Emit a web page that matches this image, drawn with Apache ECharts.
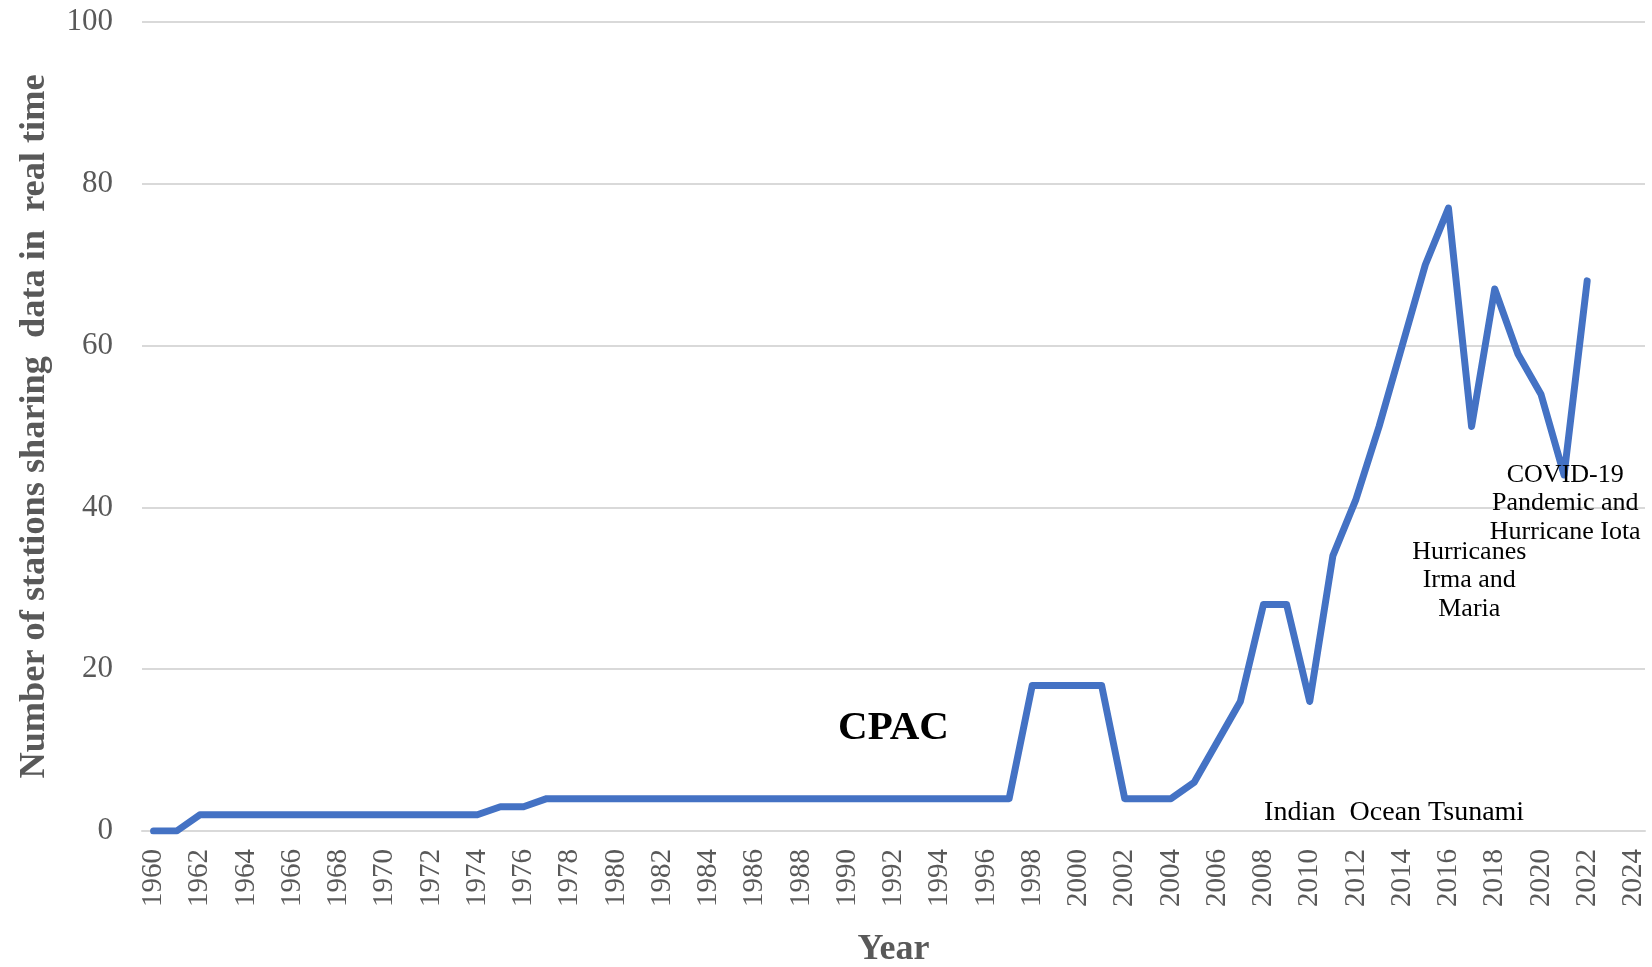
<!DOCTYPE html>
<html>
<head>
<meta charset="utf-8">
<script src="https://cdn.jsdelivr.net/npm/echarts@6/dist/echarts.min.js"></script>
<style>
html,body{margin:0;padding:0;background:#fff;}
#chart{width:1652px;height:967px;}
</style>
</head>
<body>
<div id="chart"></div>
<script>
// Categories (years shown on the axis)
var years = [];
for (var y = 1960; y <= 2024; y++) years.push(String(y));

// Number of stations sharing data in real time (1960 - 2022)
var stations = [
  0, 0, 2, 2, 2, 2, 2, 2, 2, 2,      // 1960-1969
  2, 2, 2, 2, 2, 3, 3, 4, 4, 4,      // 1970-1979
  4, 4, 4, 4, 4, 4, 4, 4, 4, 4,      // 1980-1989
  4, 4, 4, 4, 4, 4, 4, 4, 18, 18,    // 1990-1999
  18, 18, 4, 4, 4, 6, 11, 16, 28, 28,// 2000-2009
  16, 34, 41, 50, 60, 70, 77, 50, 67, 59, // 2010-2019
  54, 44, 68                          // 2020-2022
];

// Y axis ticks
var yMin = 0, yMax = 100, yStep = 20;

// Annotations: text and anchor (year, value) in data units
var noteTexts = ['CPAC', 'Indian  Ocean Tsunami', 'Hurricanes\nIrma and\nMaria', 'COVID-19\nPandemic and\nHurricane Iota'];
var noteYears = [1992.0, 2013.65, 2016.9, 2021.05];
var noteValues = [12.7, 2.25, 31.0, 40.5];

var FONT = '"Liberation Serif", "Times New Roman", serif';
var chart = echarts.init(document.getElementById('chart'), null, {renderer: 'canvas'});

var option = {
  backgroundColor: '#ffffff',
  animation: false,
  grid: {left: 142, right: 7, top: 22, bottom: 136, containLabel: false, outerBoundsMode: 'none'},
  xAxis: {
    type: 'category',
    data: years,
    boundaryGap: true,
    name: 'Year',
    nameLocation: 'middle',
    nameGap: 101,
    nameTextStyle: {fontFamily: FONT, fontSize: 36, fontWeight: 'bold', color: '#595959'},
    axisLine: {show: true, lineStyle: {color: '#D9D9D9', width: 2}},
    axisTick: {show: false},
    axisLabel: {
      interval: 1,
      rotate: 90,
      margin: 18,
      fontFamily: FONT,
      fontSize: 29,
      color: '#595959'
    },
    splitLine: {show: false}
  },
  yAxis: {
    type: 'value',
    min: yMin,
    max: yMax,
    interval: yStep,
    name: 'Number of stations sharing  data in  real time',
    nameLocation: 'middle',
    nameGap: 89,
    nameTextStyle: {fontFamily: FONT, fontSize: 36.3, fontWeight: 'bold', color: '#595959'},
    axisLine: {show: false},
    axisTick: {show: false},
    axisLabel: {margin: 29, fontFamily: FONT, fontSize: 31, color: '#595959'},
    splitLine: {show: true, lineStyle: {color: '#D9D9D9', width: 2}}
  },
  series: [{
    type: 'line',
    data: stations,
    symbol: 'none',
    lineStyle: {color: '#4472C4', width: 7, cap: 'round', join: 'round'},
    itemStyle: {color: '#4472C4'},
    z: 3
  }]
};
chart.setOption(option);

function yearToPx(yr) {
  var p0 = chart.convertToPixel({xAxisIndex: 0}, years[0]);
  var p1 = chart.convertToPixel({xAxisIndex: 0}, years[1]);
  return p0 + (yr - Number(years[0])) * (p1 - p0);
}
function valToPx(v) {
  return chart.convertToPixel({yAxisIndex: 0}, v);
}

var graphics = noteTexts.map(function (t, i) {
  var isCpac = (i === 0);
  var isTsunami = (i === 1);
  return {
    type: 'text',
    x: yearToPx(noteYears[i]),
    y: valToPx(noteValues[i]),
    z: 10,
    style: {
      text: t,
      fontFamily: FONT,
      fontSize: isCpac ? 41 : (isTsunami ? 28 : 26),
      fontWeight: isCpac ? 'bold' : 'normal',
      lineHeight: 28.5,
      fill: '#000000',
      align: 'center',
      verticalAlign: 'middle'
    }
  };
});
chart.setOption({graphic: graphics});
</script>
</body>
</html>
